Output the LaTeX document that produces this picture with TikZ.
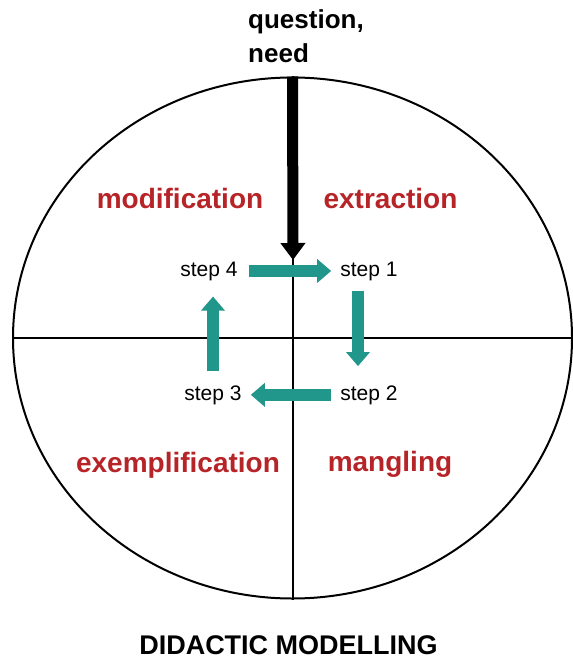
\documentclass[tikz,border=0pt]{standalone}
\usepackage{fontspec}
\setmainfont{Liberation Sans}
\usepackage{tikz}
\usetikzlibrary{arrows.meta,calc,shapes.geometric}
\definecolor{dmred}{RGB}{183,36,40}
\definecolor{dmteal}{RGB}{33,150,138}
\tikzset{
  dmaxis/.style={draw, line width=2pt},
  dmphase/.style={font=\fontsize{28}{32}\selectfont\bfseries, text=dmred, inner sep=0pt, anchor=base},
  dmstep/.style={font=\fontsize{21}{24}\selectfont, inner sep=0pt, anchor=base},
  dmflow/.style={draw=dmteal, line width=12pt, -{Triangle[length=14pt, width=23pt]}},
  dmentry/.style={draw=black, line width=11pt, -{Triangle[length=17pt, width=24pt]}},
  dmtitle/.style={font=\fontsize{26}{34}\selectfont\bfseries, inner sep=0pt},
}

\begin{document}
\begin{tikzpicture}[x=1pt,y=-1pt]
  \useasboundingbox (0,0) rectangle (572,660);

  % the wheel and its two axes
  \node[ellipse, dmaxis, minimum width=559pt, minimum height=521pt, inner sep=0pt] (wheel) at (292.5,338) {};
  \draw[dmaxis] (wheel.west) -- (wheel.east);
  \draw[dmaxis] (wheel.north) -- (wheel.south);

  % entry point
  \node[dmtitle, anchor=north west, align=left] (need) at (248,9) {question,\\need};
  \coordinate (entry) at (293,260);
  \draw[dmentry] (wheel.north) -- (entry);

  % quadrant names
  \node[dmphase] (modif) at (180,208) {modification};
  \node[dmphase] (extract) at (390.5,208) {extraction};
  \node[dmphase] (exempl) at (178,472) {exemplification};
  \node[dmphase] (mangle) at (390,471) {mangling};

  % the four steps
  \node[dmstep] (s1) at (369,276) {step 1};
  \node[dmstep] (s2) at (369,400) {step 2};
  \node[dmstep] (s3) at (213,400) {step 3};
  \node[dmstep] (s4) at (209,276) {step 4};

  \draw[dmflow, shorten <=11pt, shorten >=9pt] (s4.east) -- (s1.west);
  \draw[dmflow] ($(s1.south)+(-11,10)$) -- ($(s2.north)+(-11,-19)$);
  \draw[dmflow, shorten <=9pt, shorten >=9pt] (s2.west) -- (s3.east);
  \draw[dmflow] ($(s3.north)+(0,-14)$) -- ($(s3.north |- s4.south)+(0,16)$);

  \node[dmtitle, font=\fontsize{27}{34}\selectfont\bfseries, anchor=base] (title) at (288.5,654) {DIDACTIC MODELLING};
\end{tikzpicture}
\end{document}
